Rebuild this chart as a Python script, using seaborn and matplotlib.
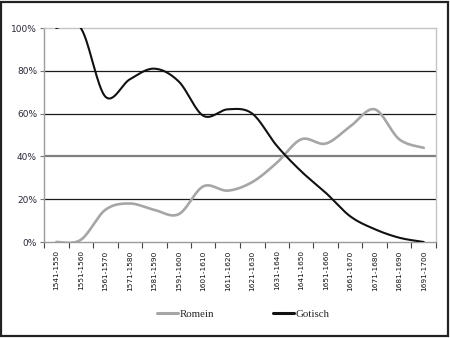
import numpy as np
import matplotlib
matplotlib.use("Agg")
import matplotlib.pyplot as plt
from matplotlib.patches import Rectangle
from matplotlib.lines import Line2D
from matplotlib.ticker import FixedLocator, FuncFormatter
import seaborn as sns

periods = ["1541-1550", "1551-1560", "1561-1570", "1571-1580", "1581-1590",
           "1591-1600", "1601-1610", "1611-1620", "1621-1630", "1631-1640",
           "1641-1650", "1651-1660", "1661-1670", "1671-1680", "1681-1690",
           "1691-1700"]
romein = [0, 1, 15, 18, 15, 13, 26, 24, 28, 37, 48, 46, 54, 62, 48, 44]
gotisch = [100, 100, 68, 76, 81, 75, 59, 62, 60, 45, 33, 23, 12, 6, 2, 0]
series_names = ["Romein", "Gotisch"]
y_ticks = [0, 20, 40, 60, 80, 100]

ROMEIN_COLOR = "#a6a6a6"
GOTISCH_COLOR = "#111111"


def smoothed(values, samples=30):
    """Cubic Bezier (Catmull-Rom style) curve through every data point."""
    y = np.asarray(values, dtype=float)
    x = np.arange(len(y), dtype=float)
    xp = np.concatenate(([x[0]], x, [x[-1]]))
    yp = np.concatenate(([y[0]], y, [y[-1]]))
    t = np.linspace(0, 1, samples)
    xs, ys = [], []
    for i in range(len(y) - 1):
        p0 = np.array([x[i], y[i]])
        p3 = np.array([x[i + 1], y[i + 1]])
        c1 = p0 + (np.array([xp[i + 2], yp[i + 2]]) - np.array([xp[i], yp[i]])) / 6
        c2 = p3 - (np.array([xp[i + 3], yp[i + 3]]) - np.array([xp[i + 1], yp[i + 1]])) / 6
        pts = ((1 - t) ** 3)[:, None] * p0 + (3 * (1 - t) ** 2 * t)[:, None] * c1 \
            + (3 * (1 - t) * t ** 2)[:, None] * c2 + (t ** 3)[:, None] * p3
        if i > 0:
            pts = pts[1:]
        xs.append(pts[:, 0])
        ys.append(pts[:, 1])
    return np.concatenate(xs), np.concatenate(ys)


sns.set_style("white")
plt.rcParams["font.family"] = ["DejaVu Sans"]

fig = plt.figure(figsize=(4.5, 3.38), dpi=100)
ax = fig.add_axes([44 / 450, 1 - 242 / 338, 392 / 450, 214 / 338])

# horizontal grid lines
for v in [20, 60, 80]:
    ax.axhline(v, color="#1a1a1a", lw=0.9, zorder=1)
ax.axhline(40, color="#808080", lw=1.6, zorder=1)

for values, color, lw in [(romein, ROMEIN_COLOR, 1.9), (gotisch, GOTISCH_COLOR, 1.5)]:
    xs, ys = smoothed(values)
    sns.lineplot(x=xs, y=ys, sort=False, estimator=None, color=color,
                 lw=lw, ax=ax, legend=False, zorder=3)

ax.set_xlim(-0.5, len(periods) - 0.5)
ax.set_ylim(0, 100)

ax.xaxis.set_major_locator(FixedLocator(range(len(periods))))
ax.set_xticklabels(periods, rotation=90, fontsize=5.3, color="#111111")
ax.xaxis.set_minor_locator(FixedLocator(np.arange(-0.5, len(periods), 1.0)))
ax.tick_params(axis="x", which="major", length=0, pad=6)
ax.tick_params(axis="x", which="minor", length=4, width=0.8, color="#444444",
               direction="out", bottom=True)

ax.yaxis.set_major_locator(FixedLocator(y_ticks))
ax.yaxis.set_major_formatter(FuncFormatter(lambda v, _: f"{v:.0f}%"))
ax.tick_params(axis="y", length=3, width=0.8, color="#777777", labelsize=6.5,
               labelcolor="#2a2a38", pad=2, left=True)

for side in ["left", "bottom"]:
    ax.spines[side].set_color("#9a9a9a")
    ax.spines[side].set_linewidth(1.0)
for side in ["top", "right"]:
    ax.spines[side].set_color("#c4c4c4")
    ax.spines[side].set_linewidth(1.0)
ax.set_xlabel("")
ax.set_ylabel("")

handles = [Line2D([], [], color=ROMEIN_COLOR, lw=2.2),
           Line2D([], [], color=GOTISCH_COLOR, lw=2.2)]
fig.legend(handles, series_names, loc="center", bbox_to_anchor=(243 / 450, 1 - 314 / 338),
           ncol=2, frameon=False, handlelength=2.0, handletextpad=0.1,
           columnspacing=5.4, prop={"family": "Liberation Serif", "size": 7.8})

fig.patches.append(Rectangle((1 / 450, 2.5 / 338), 447 / 450, 334 / 338,
                             transform=fig.transFigure, fill=False,
                             ec="#222222", lw=1.6))

fig.savefig("out.png", dpi=100)
